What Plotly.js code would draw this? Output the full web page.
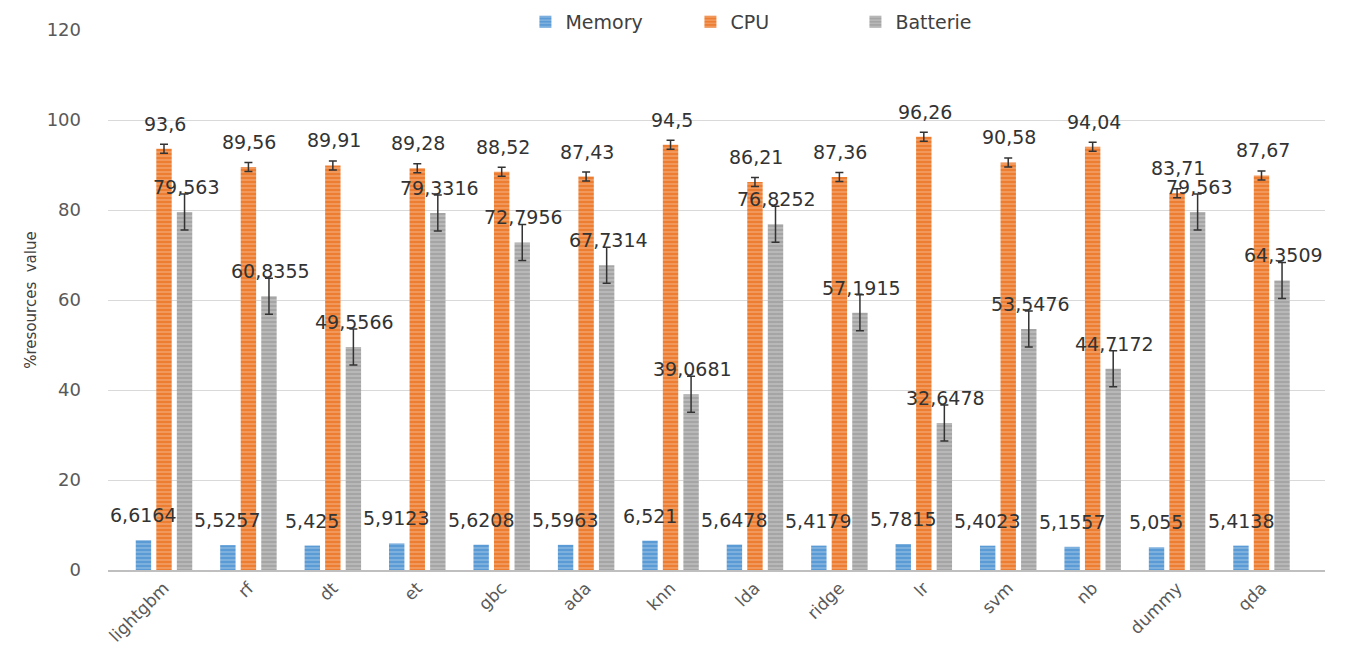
<!DOCTYPE html>
<html>
<head>
<meta charset="utf-8">
<script src="https://cdn.plot.ly/plotly-3.0.1.min.js"></script>
<style>html,body{margin:0;padding:0;background:#fff;}#chart{width:1359px;height:650px;}</style>
</head>
<body>
<div id="chart"></div>
<script>
const categories = ["lightgbm","rf","dt","et","gbc","ada","knn","lda","ridge","lr","svm","nb","dummy","qda"];
const memory = [6.6164,5.5257,5.425,5.9123,5.6208,5.5963,6.521,5.6478,5.4179,5.7815,5.4023,5.1557,5.055,5.4138];
const cpu = [93.6,89.56,89.91,89.28,88.52,87.43,94.5,86.21,87.36,96.26,90.58,94.04,83.71,87.67];
const battery = [79.563,60.8355,49.5566,79.3316,72.7956,67.7314,39.0681,76.8252,57.1915,32.6478,53.5476,44.7172,79.563,64.3509];
const cpuErr = [1,1,1,1,1,1,1,1,1,1,1,1,1,1];
const batteryErr = [4,4,4,4,4,4,4,4,4,4,4,4,4,4];
const seriesNames = ["Memory","CPU","Batterie"];
const yTicks = [0,20,40,60,80,100,120];

const FONT = "DejaVu Sans, sans-serif";
const colors = ["#5B9BD5","#ED7D31","#A5A5A5"];
const series = [memory, cpu, battery];
const errs = [null, cpuErr, batteryErr];

const traces = series.map((vals, i) => {
  const t = {
    type: "bar",
    name: seriesNames[i],
    x: categories,
    y: vals,
    marker: {
      color: colors[i],
      line: {width: 0},
      pattern: {shape: "-", fillmode: "overlay", fgcolor: "rgba(255,255,255,0.6)", size: 4, solidity: 0.35}
    },
    hoverinfo: "x+y"
  };
  if (errs[i]) {
    t.error_y = {type: "data", array: errs[i], visible: true, color: "#333333", thickness: 1.5, width: 4};
  }
  return t;
});

const offsets = [-21, 1, 22];
const fmt = v => String(v).replace(".", ",");
const annotations = [];
series.forEach((vals, i) => {
  vals.forEach((v, j) => {
    annotations.push({
      x: categories[j], y: v, xref: "x", yref: "y",
      text: fmt(v), showarrow: false,
      xshift: offsets[i], yshift: 12, yanchor: "bottom",
      font: {family: FONT, size: 19, color: "#333333"}
    });
  });
});

const layout = {
  width: 1359, height: 650,
  margin: {l: 108, r: 34, t: 30, b: 80, autoexpand: false},
  paper_bgcolor: "#ffffff", plot_bgcolor: "#ffffff",
  barmode: "group", bargap: 0.27, bargroupgap: 0.25,
  font: {family: FONT, color: "#595959"},
  showlegend: true,
  legend: {
    orientation: "h", x: 0.343, xanchor: "left", y: 1.015, yanchor: "middle",
    bgcolor: "rgba(255,255,255,0)",
    font: {family: FONT, size: 19, color: "#404040"},
    itemwidth: 30, entrywidth: 120, traceorder: "normal"
  },
  xaxis: {
    type: "category",
    tickangle: -45,
    tickfont: {family: FONT, size: 17, color: "#595959"},
    showline: true, linecolor: "#BFBFBF", linewidth: 1.5,
    ticks: "", showgrid: false
  },
  yaxis: {
    range: [0, 120],
    tickvals: yTicks,
    tickfont: {family: FONT, size: 18, color: "#595959"},
    showgrid: true, gridcolor: "#D9D9D9", gridwidth: 1,
    zeroline: false, showline: false, ticks: "", ticklabelstandoff: 26,
    title: {text: "%resources  value", font: {family: FONT, size: 15, color: "#404040"}, standoff: 6}
  },
  annotations: annotations
};

Plotly.newPlot("chart", traces, layout, {displayModeBar: false, staticPlot: true});
</script>
</body>
</html>
